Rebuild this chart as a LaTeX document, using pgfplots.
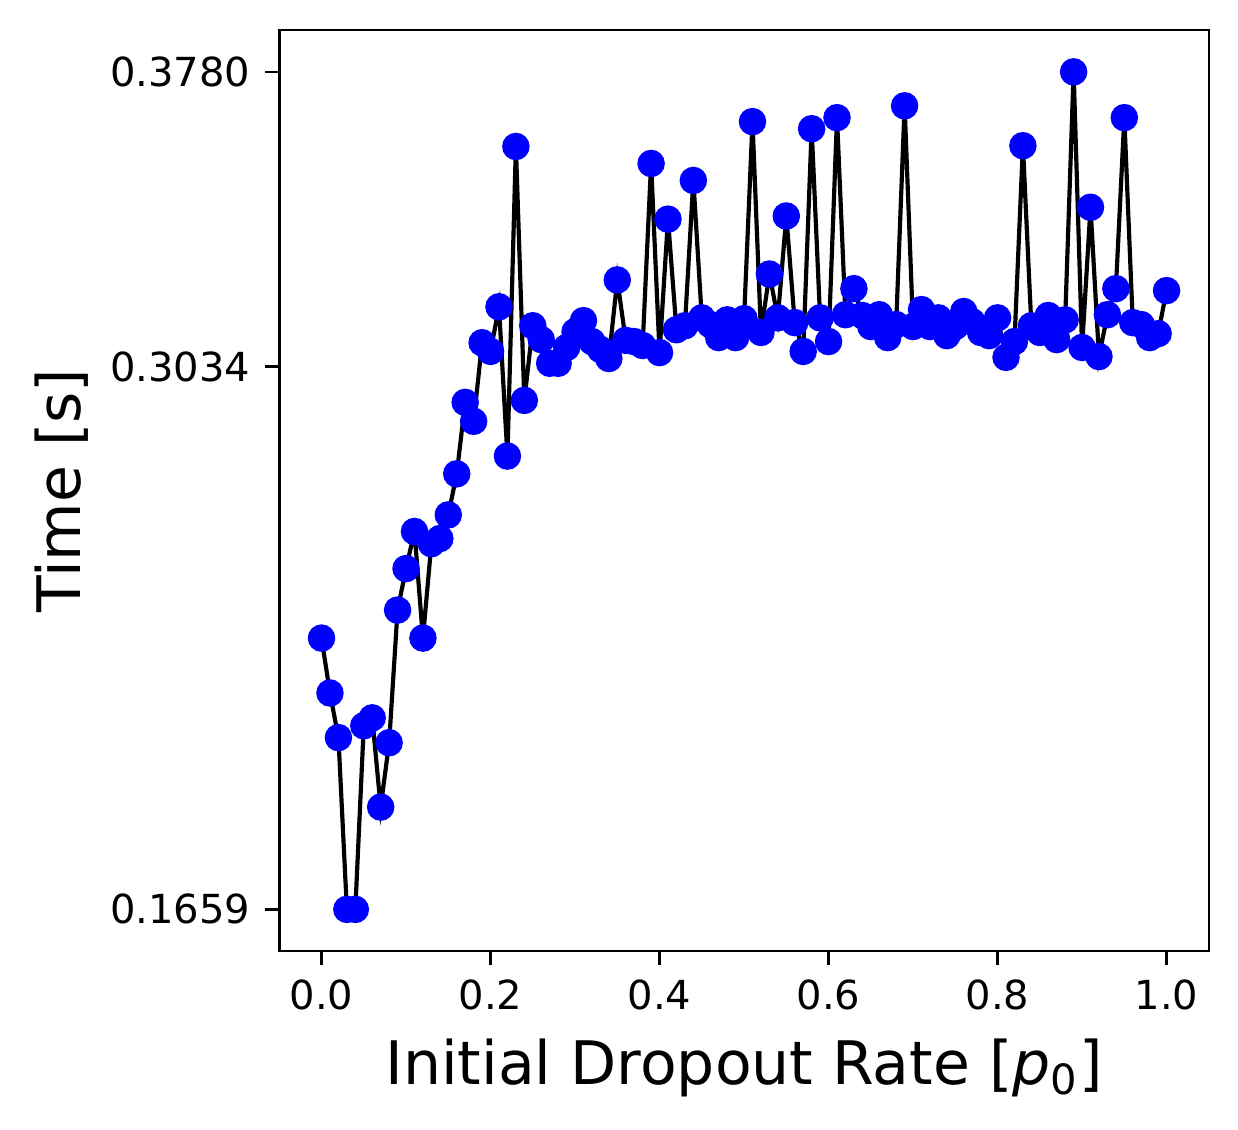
\documentclass[border=0pt]{standalone}
\usepackage{pgfplots}
\usepackage{pgfplotstable}
\pgfplotsset{compat=1.18}
\usepackage{fontspec}
\setmainfont{DejaVu Sans}
\setsansfont{DejaVu Sans}

% time per initial dropout rate
\pgfplotstableread{
x y
0.00 0.2346
0.01 0.2207
0.02 0.2094
0.03 0.1659
0.04 0.1659
0.05 0.2124
0.06 0.2144
0.07 0.1918
0.08 0.2081
0.09 0.2417
0.10 0.2522
0.11 0.2616
0.12 0.2346
0.13 0.2585
0.14 0.2598
0.15 0.2658
0.16 0.2762
0.17 0.2943
0.18 0.2895
0.19 0.3094
0.20 0.3072
0.21 0.3185
0.22 0.2807
0.23 0.3591
0.24 0.2948
0.25 0.3137
0.26 0.3102
0.27 0.3042
0.28 0.3042
0.29 0.3082
0.30 0.3122
0.31 0.3150
0.32 0.3097
0.33 0.3077
0.34 0.3054
0.35 0.3253
0.36 0.3100
0.37 0.3097
0.38 0.3087
0.39 0.3548
0.40 0.3069
0.41 0.3407
0.42 0.3127
0.43 0.3137
0.44 0.3505
0.45 0.3157
0.46 0.3140
0.47 0.3107
0.48 0.3152
0.49 0.3107
0.50 0.3155
0.51 0.3654
0.52 0.3120
0.53 0.3268
0.54 0.3157
0.55 0.3415
0.56 0.3145
0.57 0.3072
0.58 0.3636
0.59 0.3157
0.60 0.3097
0.61 0.3664
0.62 0.3165
0.63 0.3231
0.64 0.3163
0.65 0.3135
0.66 0.3165
0.67 0.3107
0.68 0.3140
0.69 0.3694
0.70 0.3135
0.71 0.3178
0.72 0.3135
0.73 0.3157
0.74 0.3112
0.75 0.3135
0.76 0.3173
0.77 0.3147
0.78 0.3120
0.79 0.3112
0.80 0.3157
0.81 0.3057
0.82 0.3097
0.83 0.3593
0.84 0.3137
0.85 0.3120
0.86 0.3163
0.87 0.3102
0.88 0.3152
0.89 0.3780
0.90 0.3082
0.91 0.3437
0.92 0.3059
0.93 0.3165
0.94 0.3231
0.95 0.3664
0.96 0.3145
0.97 0.3140
0.98 0.3107
0.99 0.3117
1.00 0.3226
}\timedata

\begin{document}
\begin{tikzpicture}
\begin{axis}[
    scale only axis,
    width=223pt, height=221pt,
    xmin=-0.05, xmax=1.05,
    ymin=0.1553, ymax=0.3886,
    xtick={0,0.2,0.4,0.6,0.8,1.0},
    ytick={0.1659,0.3034,0.3780},
    xticklabel style={/pgf/number format/.cd,fixed,fixed zerofill,precision=1},
    yticklabel style={/pgf/number format/.cd,fixed,fixed zerofill,precision=4},
    /pgf/number format/assume math mode=true,
    scaled x ticks=false, scaled y ticks=false,
    tick label style={font=\fontsize{9.6}{12}\selectfont},
    label style={font=\fontsize{14.4}{17}\selectfont},
    xlabel={Initial Dropout Rate [\textit{p}\textsubscript{0}]},
    ylabel={Time [s]},
    ylabel style={xshift=0pt, yshift=-1.5pt},
    tick align=outside,
    xtick pos=bottom, ytick pos=left,
    major tick length=3.4pt,
    every tick/.style={black, line width=0.6pt},
    axis line style={line width=0.6pt},
    clip=false,
]
\addplot[only marks, mark=*, mark size=3.1pt, draw=none, fill=blue, mark options={draw=blue, fill=blue}] table[x=x, y=y] {\timedata};
\addplot[black, line width=1pt, no marks] table[x=x, y=y] {\timedata};
\end{axis}
\path (current axis.south west) ++(-67pt,-42.7pt) coordinate (bbsw);
\path (current axis.north east) ++(7pt,7.2pt) coordinate (bbne);
\path[use as bounding box] (bbsw) rectangle (bbne);
\end{tikzpicture}
\end{document}
